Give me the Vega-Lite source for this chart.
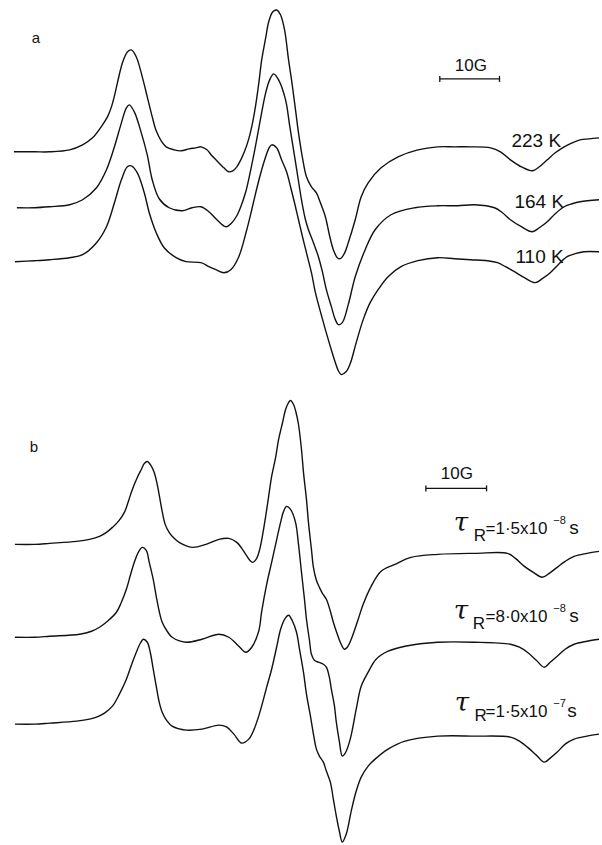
{
"$schema": "https://vega.github.io/schema/vega-lite/v6.json",
"width": 602, "height": 845,
"autosize": {"type": "fit", "contains": "padding"},
"padding": 0,
"background": "white",
"config": {"view": {"stroke": null}},
"datasets": {
"traces": [
{"s":"a1","B":14,"sig":152},{"s":"a1","B":35,"sig":152},{"s":"a1","B":50,"sig":152},{"s":"a1","B":70,"sig":150},{"s":"a1","B":83,"sig":145},{"s":"a1","B":93,"sig":138},{"s":"a1","B":103,"sig":125},{"s":"a1","B":108,"sig":117},{"s":"a1","B":112,"sig":107},{"s":"a1","B":115,"sig":96},{"s":"a1","B":118,"sig":83},{"s":"a1","B":123,"sig":63},{"s":"a1","B":128,"sig":52},{"s":"a1","B":132,"sig":50},{"s":"a1","B":137,"sig":57},{"s":"a1","B":143,"sig":77},{"s":"a1","B":148,"sig":97},{"s":"a1","B":153,"sig":117},{"s":"a1","B":157,"sig":131},{"s":"a1","B":162,"sig":141},{"s":"a1","B":167,"sig":147},{"s":"a1","B":175,"sig":150},{"s":"a1","B":182,"sig":151},{"s":"a1","B":190,"sig":149},{"s":"a1","B":197,"sig":148},{"s":"a1","B":202,"sig":147},{"s":"a1","B":208,"sig":150},{"s":"a1","B":213,"sig":156},{"s":"a1","B":217,"sig":160},{"s":"a1","B":225,"sig":168},{"s":"a1","B":230,"sig":172},{"s":"a1","B":234,"sig":171},{"s":"a1","B":238,"sig":167},{"s":"a1","B":242,"sig":160},{"s":"a1","B":246,"sig":151},{"s":"a1","B":250,"sig":139},{"s":"a1","B":254,"sig":122},{"s":"a1","B":257,"sig":105},{"s":"a1","B":260,"sig":84},{"s":"a1","B":263,"sig":60},{"s":"a1","B":267,"sig":38},{"s":"a1","B":270,"sig":22},{"s":"a1","B":274,"sig":12},{"s":"a1","B":278,"sig":10},{"s":"a1","B":282,"sig":15},{"s":"a1","B":286,"sig":30},{"s":"a1","B":290,"sig":60},{"s":"a1","B":293,"sig":80},{"s":"a1","B":297,"sig":110},{"s":"a1","B":300,"sig":133},{"s":"a1","B":304,"sig":158},{"s":"a1","B":308,"sig":177},{"s":"a1","B":313,"sig":187},{"s":"a1","B":318,"sig":193},{"s":"a1","B":322,"sig":203},{"s":"a1","B":327,"sig":217},{"s":"a1","B":331,"sig":235},{"s":"a1","B":335,"sig":250},{"s":"a1","B":339,"sig":258},{"s":"a1","B":342,"sig":259},{"s":"a1","B":346,"sig":254},{"s":"a1","B":350,"sig":243},{"s":"a1","B":357,"sig":220},{"s":"a1","B":363,"sig":197},{"s":"a1","B":370,"sig":183},{"s":"a1","B":383,"sig":168},{"s":"a1","B":400,"sig":157},{"s":"a1","B":420,"sig":150},{"s":"a1","B":440,"sig":147},{"s":"a1","B":457,"sig":147},{"s":"a1","B":473,"sig":147},{"s":"a1","B":493,"sig":148},{"s":"a1","B":503,"sig":152},{"s":"a1","B":513,"sig":160},{"s":"a1","B":524,"sig":167},{"s":"a1","B":535,"sig":171},{"s":"a1","B":542,"sig":167},{"s":"a1","B":550,"sig":160},{"s":"a1","B":558,"sig":153},{"s":"a1","B":567,"sig":147},{"s":"a1","B":575,"sig":143},{"s":"a1","B":583,"sig":140},{"s":"a1","B":592,"sig":139},{"s":"a1","B":602,"sig":138},
{"s":"a2","B":17,"sig":208},{"s":"a2","B":35,"sig":208},{"s":"a2","B":50,"sig":207},{"s":"a2","B":70,"sig":205},{"s":"a2","B":83,"sig":200},{"s":"a2","B":97,"sig":188},{"s":"a2","B":107,"sig":170},{"s":"a2","B":115,"sig":147},{"s":"a2","B":122,"sig":123},{"s":"a2","B":127,"sig":108},{"s":"a2","B":130,"sig":105},{"s":"a2","B":135,"sig":112},{"s":"a2","B":142,"sig":133},{"s":"a2","B":148,"sig":155},{"s":"a2","B":153,"sig":180},{"s":"a2","B":160,"sig":199},{"s":"a2","B":170,"sig":208},{"s":"a2","B":183,"sig":211},{"s":"a2","B":193,"sig":208},{"s":"a2","B":202,"sig":207},{"s":"a2","B":210,"sig":212},{"s":"a2","B":218,"sig":220},{"s":"a2","B":227,"sig":227},{"s":"a2","B":233,"sig":223},{"s":"a2","B":238,"sig":216},{"s":"a2","B":242,"sig":207},{"s":"a2","B":247,"sig":192},{"s":"a2","B":252,"sig":170},{"s":"a2","B":257,"sig":145},{"s":"a2","B":262,"sig":118},{"s":"a2","B":267,"sig":93},{"s":"a2","B":271,"sig":80},{"s":"a2","B":275,"sig":74},{"s":"a2","B":280,"sig":80},{"s":"a2","B":287,"sig":100},{"s":"a2","B":291,"sig":125},{"s":"a2","B":295,"sig":150},{"s":"a2","B":299,"sig":175},{"s":"a2","B":303,"sig":200},{"s":"a2","B":307,"sig":220},{"s":"a2","B":310,"sig":230},{"s":"a2","B":315,"sig":243},{"s":"a2","B":320,"sig":257},{"s":"a2","B":324,"sig":272},{"s":"a2","B":328,"sig":290},{"s":"a2","B":333,"sig":307},{"s":"a2","B":337,"sig":320},{"s":"a2","B":340,"sig":325},{"s":"a2","B":344,"sig":323},{"s":"a2","B":350,"sig":305},{"s":"a2","B":357,"sig":277},{"s":"a2","B":367,"sig":250},{"s":"a2","B":377,"sig":230},{"s":"a2","B":393,"sig":215},{"s":"a2","B":417,"sig":208},{"s":"a2","B":440,"sig":206},{"s":"a2","B":460,"sig":206},{"s":"a2","B":477,"sig":205},{"s":"a2","B":497,"sig":208},{"s":"a2","B":505,"sig":213},{"s":"a2","B":513,"sig":220},{"s":"a2","B":524,"sig":227},{"s":"a2","B":535,"sig":232},{"s":"a2","B":542,"sig":228},{"s":"a2","B":550,"sig":222},{"s":"a2","B":558,"sig":214},{"s":"a2","B":567,"sig":207},{"s":"a2","B":575,"sig":204},{"s":"a2","B":583,"sig":202},{"s":"a2","B":602,"sig":200},
{"s":"a3","B":15,"sig":262},{"s":"a3","B":35,"sig":261},{"s":"a3","B":50,"sig":260},{"s":"a3","B":70,"sig":258},{"s":"a3","B":83,"sig":255},{"s":"a3","B":97,"sig":243},{"s":"a3","B":107,"sig":227},{"s":"a3","B":115,"sig":203},{"s":"a3","B":122,"sig":180},{"s":"a3","B":128,"sig":167},{"s":"a3","B":132,"sig":166},{"s":"a3","B":138,"sig":173},{"s":"a3","B":145,"sig":193},{"s":"a3","B":150,"sig":213},{"s":"a3","B":157,"sig":233},{"s":"a3","B":165,"sig":248},{"s":"a3","B":177,"sig":258},{"s":"a3","B":187,"sig":262},{"s":"a3","B":202,"sig":263},{"s":"a3","B":210,"sig":267},{"s":"a3","B":217,"sig":270},{"s":"a3","B":225,"sig":273},{"s":"a3","B":232,"sig":270},{"s":"a3","B":240,"sig":257},{"s":"a3","B":248,"sig":230},{"s":"a3","B":253,"sig":210},{"s":"a3","B":258,"sig":189},{"s":"a3","B":263,"sig":170},{"s":"a3","B":267,"sig":157},{"s":"a3","B":270,"sig":149},{"s":"a3","B":273,"sig":145},{"s":"a3","B":278,"sig":148},{"s":"a3","B":283,"sig":160},{"s":"a3","B":288,"sig":172},{"s":"a3","B":292,"sig":187},{"s":"a3","B":296,"sig":203},{"s":"a3","B":300,"sig":220},{"s":"a3","B":304,"sig":237},{"s":"a3","B":308,"sig":253},{"s":"a3","B":313,"sig":273},{"s":"a3","B":317,"sig":293},{"s":"a3","B":322,"sig":312},{"s":"a3","B":327,"sig":330},{"s":"a3","B":332,"sig":347},{"s":"a3","B":337,"sig":363},{"s":"a3","B":340,"sig":371},{"s":"a3","B":343,"sig":375},{"s":"a3","B":348,"sig":372},{"s":"a3","B":352,"sig":364},{"s":"a3","B":358,"sig":343},{"s":"a3","B":365,"sig":320},{"s":"a3","B":372,"sig":303},{"s":"a3","B":380,"sig":290},{"s":"a3","B":390,"sig":277},{"s":"a3","B":403,"sig":267},{"s":"a3","B":420,"sig":261},{"s":"a3","B":440,"sig":258},{"s":"a3","B":457,"sig":259},{"s":"a3","B":473,"sig":260},{"s":"a3","B":490,"sig":261},{"s":"a3","B":500,"sig":263},{"s":"a3","B":508,"sig":267},{"s":"a3","B":517,"sig":272},{"s":"a3","B":527,"sig":278},{"s":"a3","B":538,"sig":283},{"s":"a3","B":545,"sig":279},{"s":"a3","B":553,"sig":273},{"s":"a3","B":561,"sig":265},{"s":"a3","B":570,"sig":257},{"s":"a3","B":578,"sig":254},{"s":"a3","B":587,"sig":252},{"s":"a3","B":602,"sig":252},
{"s":"b1","B":15,"sig":545},{"s":"b1","B":35,"sig":545},{"s":"b1","B":50,"sig":544},{"s":"b1","B":77,"sig":542},{"s":"b1","B":90,"sig":540},{"s":"b1","B":100,"sig":537},{"s":"b1","B":107,"sig":533},{"s":"b1","B":113,"sig":528},{"s":"b1","B":119,"sig":522},{"s":"b1","B":125,"sig":513},{"s":"b1","B":129,"sig":502},{"s":"b1","B":133,"sig":490},{"s":"b1","B":138,"sig":478},{"s":"b1","B":142,"sig":470},{"s":"b1","B":145,"sig":464},{"s":"b1","B":148,"sig":462},{"s":"b1","B":151,"sig":465},{"s":"b1","B":155,"sig":473},{"s":"b1","B":158,"sig":485},{"s":"b1","B":163,"sig":512},{"s":"b1","B":166,"sig":525},{"s":"b1","B":170,"sig":533},{"s":"b1","B":175,"sig":539},{"s":"b1","B":180,"sig":543},{"s":"b1","B":193,"sig":548},{"s":"b1","B":207,"sig":545},{"s":"b1","B":220,"sig":540},{"s":"b1","B":230,"sig":539},{"s":"b1","B":238,"sig":543},{"s":"b1","B":243,"sig":549},{"s":"b1","B":247,"sig":555},{"s":"b1","B":251,"sig":561},{"s":"b1","B":254,"sig":563},{"s":"b1","B":258,"sig":559},{"s":"b1","B":261,"sig":550},{"s":"b1","B":264,"sig":535},{"s":"b1","B":267,"sig":517},{"s":"b1","B":270,"sig":497},{"s":"b1","B":273,"sig":477},{"s":"b1","B":277,"sig":458},{"s":"b1","B":280,"sig":440},{"s":"b1","B":284,"sig":423},{"s":"b1","B":287,"sig":410},{"s":"b1","B":290,"sig":403},{"s":"b1","B":292,"sig":401},{"s":"b1","B":295,"sig":405},{"s":"b1","B":298,"sig":415},{"s":"b1","B":300,"sig":425},{"s":"b1","B":303,"sig":450},{"s":"b1","B":305,"sig":473},{"s":"b1","B":308,"sig":500},{"s":"b1","B":310,"sig":523},{"s":"b1","B":313,"sig":550},{"s":"b1","B":315,"sig":568},{"s":"b1","B":318,"sig":581},{"s":"b1","B":321,"sig":588},{"s":"b1","B":324,"sig":594},{"s":"b1","B":328,"sig":600},{"s":"b1","B":332,"sig":612},{"s":"b1","B":335,"sig":623},{"s":"b1","B":339,"sig":635},{"s":"b1","B":342,"sig":643},{"s":"b1","B":346,"sig":650},{"s":"b1","B":349,"sig":648},{"s":"b1","B":353,"sig":640},{"s":"b1","B":360,"sig":620},{"s":"b1","B":365,"sig":605},{"s":"b1","B":373,"sig":587},{"s":"b1","B":383,"sig":572},{"s":"b1","B":397,"sig":565},{"s":"b1","B":413,"sig":558},{"s":"b1","B":440,"sig":555},{"s":"b1","B":477,"sig":554},{"s":"b1","B":510,"sig":554},{"s":"b1","B":518,"sig":559},{"s":"b1","B":527,"sig":567},{"s":"b1","B":536,"sig":573},{"s":"b1","B":545,"sig":578},{"s":"b1","B":552,"sig":574},{"s":"b1","B":560,"sig":568},{"s":"b1","B":568,"sig":562},{"s":"b1","B":577,"sig":557},{"s":"b1","B":590,"sig":554},{"s":"b1","B":602,"sig":552},
{"s":"b2","B":15,"sig":638},{"s":"b2","B":35,"sig":638},{"s":"b2","B":50,"sig":637},{"s":"b2","B":80,"sig":635},{"s":"b2","B":92,"sig":632},{"s":"b2","B":100,"sig":628},{"s":"b2","B":108,"sig":622},{"s":"b2","B":117,"sig":613},{"s":"b2","B":122,"sig":603},{"s":"b2","B":127,"sig":590},{"s":"b2","B":131,"sig":576},{"s":"b2","B":135,"sig":563},{"s":"b2","B":139,"sig":553},{"s":"b2","B":143,"sig":548},{"s":"b2","B":147,"sig":551},{"s":"b2","B":150,"sig":563},{"s":"b2","B":154,"sig":580},{"s":"b2","B":157,"sig":597},{"s":"b2","B":160,"sig":612},{"s":"b2","B":163,"sig":623},{"s":"b2","B":168,"sig":632},{"s":"b2","B":173,"sig":638},{"s":"b2","B":187,"sig":643},{"s":"b2","B":203,"sig":640},{"s":"b2","B":220,"sig":635},{"s":"b2","B":230,"sig":638},{"s":"b2","B":240,"sig":647},{"s":"b2","B":247,"sig":653},{"s":"b2","B":253,"sig":648},{"s":"b2","B":260,"sig":632},{"s":"b2","B":263,"sig":612},{"s":"b2","B":268,"sig":585},{"s":"b2","B":273,"sig":563},{"s":"b2","B":277,"sig":545},{"s":"b2","B":282,"sig":523},{"s":"b2","B":285,"sig":512},{"s":"b2","B":288,"sig":507},{"s":"b2","B":292,"sig":510},{"s":"b2","B":297,"sig":523},{"s":"b2","B":300,"sig":545},{"s":"b2","B":303,"sig":573},{"s":"b2","B":306,"sig":600},{"s":"b2","B":308,"sig":620},{"s":"b2","B":311,"sig":641},{"s":"b2","B":313,"sig":655},{"s":"b2","B":316,"sig":661},{"s":"b2","B":320,"sig":663},{"s":"b2","B":325,"sig":665},{"s":"b2","B":328,"sig":668},{"s":"b2","B":331,"sig":678},{"s":"b2","B":333,"sig":690},{"s":"b2","B":336,"sig":706},{"s":"b2","B":338,"sig":723},{"s":"b2","B":341,"sig":742},{"s":"b2","B":344,"sig":757},{"s":"b2","B":347,"sig":754},{"s":"b2","B":352,"sig":740},{"s":"b2","B":358,"sig":710},{"s":"b2","B":363,"sig":687},{"s":"b2","B":370,"sig":673},{"s":"b2","B":378,"sig":660},{"s":"b2","B":390,"sig":652},{"s":"b2","B":407,"sig":647},{"s":"b2","B":440,"sig":643},{"s":"b2","B":477,"sig":643},{"s":"b2","B":513,"sig":645},{"s":"b2","B":522,"sig":648},{"s":"b2","B":530,"sig":653},{"s":"b2","B":539,"sig":661},{"s":"b2","B":547,"sig":668},{"s":"b2","B":553,"sig":663},{"s":"b2","B":560,"sig":657},{"s":"b2","B":568,"sig":650},{"s":"b2","B":577,"sig":645},{"s":"b2","B":590,"sig":642},{"s":"b2","B":602,"sig":640},
{"s":"b3","B":15,"sig":725},{"s":"b3","B":35,"sig":725},{"s":"b3","B":50,"sig":724},{"s":"b3","B":77,"sig":722},{"s":"b3","B":90,"sig":720},{"s":"b3","B":97,"sig":718},{"s":"b3","B":105,"sig":714},{"s":"b3","B":113,"sig":707},{"s":"b3","B":120,"sig":695},{"s":"b3","B":127,"sig":680},{"s":"b3","B":132,"sig":666},{"s":"b3","B":137,"sig":653},{"s":"b3","B":141,"sig":644},{"s":"b3","B":144,"sig":640},{"s":"b3","B":148,"sig":643},{"s":"b3","B":151,"sig":653},{"s":"b3","B":154,"sig":670},{"s":"b3","B":157,"sig":687},{"s":"b3","B":160,"sig":703},{"s":"b3","B":163,"sig":713},{"s":"b3","B":168,"sig":722},{"s":"b3","B":173,"sig":727},{"s":"b3","B":187,"sig":731},{"s":"b3","B":203,"sig":730},{"s":"b3","B":220,"sig":726},{"s":"b3","B":228,"sig":728},{"s":"b3","B":235,"sig":735},{"s":"b3","B":243,"sig":744},{"s":"b3","B":250,"sig":740},{"s":"b3","B":255,"sig":731},{"s":"b3","B":260,"sig":717},{"s":"b3","B":264,"sig":703},{"s":"b3","B":268,"sig":688},{"s":"b3","B":273,"sig":670},{"s":"b3","B":278,"sig":648},{"s":"b3","B":282,"sig":630},{"s":"b3","B":286,"sig":620},{"s":"b3","B":290,"sig":616},{"s":"b3","B":294,"sig":622},{"s":"b3","B":298,"sig":633},{"s":"b3","B":301,"sig":650},{"s":"b3","B":305,"sig":673},{"s":"b3","B":308,"sig":695},{"s":"b3","B":312,"sig":717},{"s":"b3","B":315,"sig":735},{"s":"b3","B":318,"sig":750},{"s":"b3","B":321,"sig":757},{"s":"b3","B":325,"sig":763},{"s":"b3","B":328,"sig":772},{"s":"b3","B":332,"sig":783},{"s":"b3","B":335,"sig":800},{"s":"b3","B":338,"sig":817},{"s":"b3","B":341,"sig":832},{"s":"b3","B":344,"sig":843},{"s":"b3","B":348,"sig":835},{"s":"b3","B":353,"sig":812},{"s":"b3","B":358,"sig":792},{"s":"b3","B":363,"sig":778},{"s":"b3","B":370,"sig":767},{"s":"b3","B":377,"sig":760},{"s":"b3","B":390,"sig":750},{"s":"b3","B":407,"sig":742},{"s":"b3","B":440,"sig":737},{"s":"b3","B":477,"sig":737},{"s":"b3","B":513,"sig":738},{"s":"b3","B":522,"sig":742},{"s":"b3","B":530,"sig":748},{"s":"b3","B":539,"sig":756},{"s":"b3","B":547,"sig":763},{"s":"b3","B":553,"sig":759},{"s":"b3","B":560,"sig":753},{"s":"b3","B":568,"sig":745},{"s":"b3","B":577,"sig":740},{"s":"b3","B":590,"sig":737},{"s":"b3","B":602,"sig":735}
],
"bars": [{"B":442,"B2":502,"sig":79},{"B":428,"B2":489,"sig":489}],
"barTicks": [{"B":442,"sig":76,"sig2":82},{"B":502,"sig":76,"sig2":82},{"B":428,"sig":486,"sig2":492},{"B":489,"sig":486,"sig2":492}],
"letters": [{"B":32,"sig":43,"t":"a"},{"B":30,"sig":453,"t":"b"}],
"scaleText": [{"B":457,"sig":71,"t":"10G"},{"B":443,"sig":480,"t":"10G"}],
"tempText": [{"B":514,"sig":147,"t":"223 K"},{"B":517,"sig":208,"t":"164 K"},{"B":518,"sig":263,"t":"110 K"}],
"tau": [{"B":456,"sig":532,"t":"τ"},{"B":456,"sig":620,"t":"τ"},{"B":457,"sig":712,"t":"τ"}],
"tauMid": [{"B":476,"sig":542,"t":"R"},{"B":488,"sig":535,"t":"=1·5x10"},{"B":475,"sig":630,"t":"R"},{"B":488,"sig":623,"t":"=8·0x10"},{"B":477,"sig":722,"t":"R"},{"B":488,"sig":718,"t":"=1·5x10"}],
"tauSup": [{"B":556,"sig":525,"t":"−8"},{"B":556,"sig":613,"t":"−8"},{"B":556,"sig":708,"t":"−7"}],
"tauUnit": [{"B":572,"sig":535,"t":"s"},{"B":572,"sig":623,"t":"s"},{"B":570,"sig":718,"t":"s"}]
},
"encoding": {
"x": {"field": "B", "type": "quantitative", "scale": {"domain": [0, 602], "nice": false, "zero": false}, "axis": null},
"y": {"field": "sig", "type": "quantitative", "scale": {"domain": [0, 845], "nice": false, "zero": false, "reverse": true}, "axis": null}
},
"layer": [
{"data": {"name": "traces"}, "mark": {"type": "line", "interpolate": "catmull-rom", "strokeWidth": 1.4, "color": "#111"}, "encoding": {"detail": {"field": "s"}}},
{"data": {"name": "bars"}, "mark": {"type": "rule", "strokeWidth": 1.3, "color": "#111"}, "encoding": {"x2": {"field": "B2"}}},
{"data": {"name": "barTicks"}, "mark": {"type": "rule", "strokeWidth": 1.3, "color": "#111"}, "encoding": {"y2": {"field": "sig2"}}},
{"data": {"name": "letters"}, "mark": {"type": "text", "align": "left", "baseline": "alphabetic", "font": "Liberation Sans", "fontSize": 15, "color": "#111"}, "encoding": {"text": {"field": "t"}}},
{"data": {"name": "scaleText"}, "mark": {"type": "text", "align": "left", "baseline": "alphabetic", "font": "Liberation Sans", "fontSize": 17, "color": "#111"}, "encoding": {"text": {"field": "t"}}},
{"data": {"name": "tempText"}, "mark": {"type": "text", "align": "left", "baseline": "alphabetic", "font": "Liberation Sans", "fontSize": 19, "color": "#111"}, "encoding": {"text": {"field": "t"}}},
{"data": {"name": "tau"}, "mark": {"type": "text", "align": "left", "baseline": "alphabetic", "font": "DejaVu Serif", "fontStyle": "italic", "fontSize": 26, "color": "#111"}, "encoding": {"text": {"field": "t"}}},
{"data": {"name": "tauMid"}, "mark": {"type": "text", "align": "left", "baseline": "alphabetic", "font": "Liberation Sans", "fontSize": 17, "color": "#111"}, "encoding": {"text": {"field": "t"}}},
{"data": {"name": "tauSup"}, "mark": {"type": "text", "align": "left", "baseline": "alphabetic", "font": "Liberation Sans", "fontSize": 11, "color": "#111"}, "encoding": {"text": {"field": "t"}}},
{"data": {"name": "tauUnit"}, "mark": {"type": "text", "align": "left", "baseline": "alphabetic", "font": "Liberation Sans", "fontSize": 19, "color": "#111"}, "encoding": {"text": {"field": "t"}}}
]
}
